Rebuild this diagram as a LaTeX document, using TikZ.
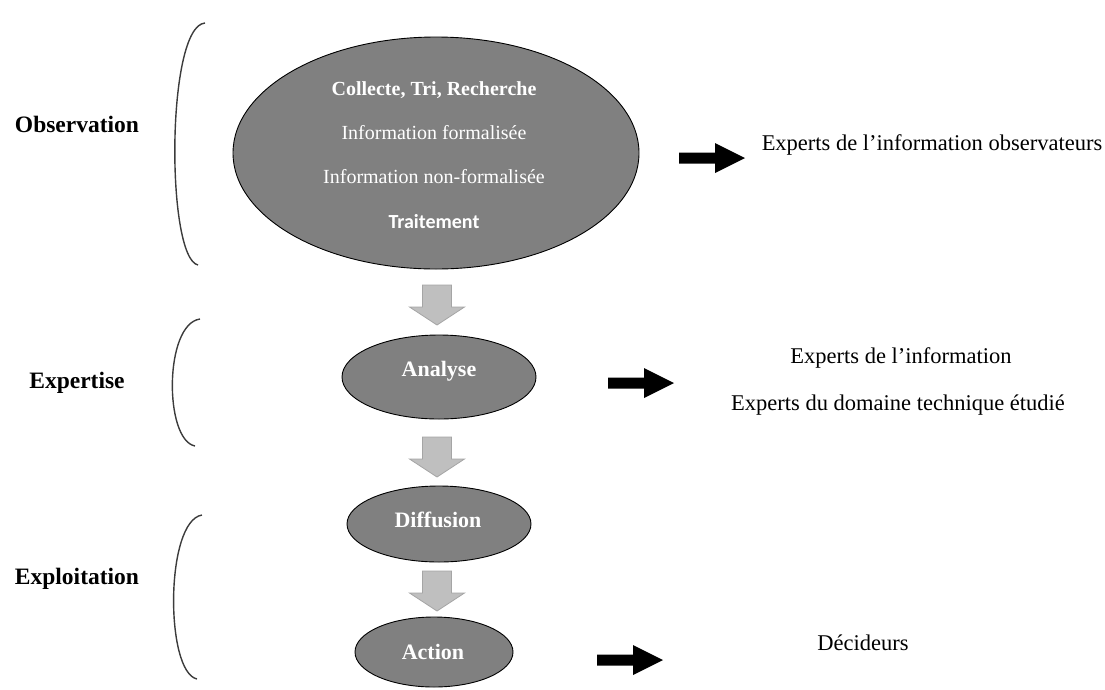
\documentclass[tikz,border=0pt]{standalone}
\usepackage{fontspec}
\setmainfont{Liberation Serif}
\newfontfamily\calibrisub{Carlito}
\usetikzlibrary{shapes.geometric}

\definecolor{stagefill}{RGB}{128,128,128}
\definecolor{flowfill}{RGB}{191,191,191}
\definecolor{flowedge}{RGB}{165,165,165}
\definecolor{bracecol}{RGB}{60,60,60}

\tikzset{
  stage/.style={ellipse, draw=black, line width=0.9pt, fill=stagefill, inner sep=0pt},
  stagetext/.style={text=white, font=\fontsize{22}{26}\selectfont\bfseries, inner sep=0pt},
  innertext/.style={text=white, font=\fontsize{20}{24}\selectfont, inner sep=0pt},
  phase/.style={font=\fontsize{23.5}{28}\selectfont\bfseries, inner sep=0pt},
  actor/.style={font=\fontsize{22.5}{27}\selectfont, inner sep=0pt},
  brace/.style={draw=bracecol, line width=1.4pt},
  pics/flowdown/.style={code={
    \filldraw[fill=flowfill, draw=flowedge, line width=0.8pt]
      (-14.5,0) -- (14.5,0) -- (14.5,22) -- (27.5,22) -- (0,40)
      -- (-27.5,22) -- (-14.5,22) -- cycle;}},
  pics/pointright/.style={code={
    \fill[black] (0,-5.5) -- (36,-5.5) -- (36,-15) -- (66,0)
      -- (36,15) -- (36,5.5) -- (0,5.5) -- cycle;}}
}

\begin{document}
\begin{tikzpicture}[x=1pt, y=-1pt]
\useasboundingbox (0,0) rectangle (1105,689);
\clip (0,0) rectangle (1105,689);

% stages of the process
\node[stage, minimum width=406pt, minimum height=232pt] (obs) at (436,153) {};
\node[innertext, font=\fontsize{20}{24}\selectfont\bfseries] (collecte) at (434,90) {Collecte, Tri, Recherche};
\node[innertext] (formal) at (434,133) {Information formalisée};
\node[innertext] (nonformal) at (434,177) {Information non-formalisée};
\node[innertext, font=\calibrisub\fontsize{20}{24}\selectfont\bfseries] (traitement) at (434,222) {Traitement};

\node[stage, minimum width=194pt, minimum height=84pt] (analyse) at (439,377) {};
\node[stagetext] (analysetxt) at (439,371) {Analyse};

\node[stage, minimum width=184pt, minimum height=76pt] (diffusion) at (439,524) {};
\node[stagetext] (diffusiontxt) at (438,520) {Diffusion};

\node[stage, minimum width=158pt, minimum height=70pt] (action) at (434,652) {};
\node[stagetext] (actiontxt) at (433,652) {Action};

% grey flow arrows between stages
\pic at (437,285) {flowdown};
\pic at (437,437) {flowdown};
\pic at (437,571) {flowdown};

% phase labels and their brackets
\node[phase] (observation) at (77,124) {Observation};
\node[phase] (expertise) at (77,383) {Expertise};
\node[phase] (exploitation) at (77,579) {Exploitation};

\draw[brace] (205,23) .. controls (166,26) and (166,258) .. (198,265);
\draw[brace] (200,319) .. controls (164,324) and (164,440) .. (195,446);
\draw[brace] (202,515) .. controls (165,521) and (165,672) .. (197,679);

% actors involved at each phase
\pic at (679,158) {pointright};
\node[actor] (observers) at (932,145) {Experts de l’information observateurs};

\pic at (608,383) {pointright};
\node[actor] (infoexperts) at (901,358) {Experts de l’information};
\node[actor] (domainexperts) at (898,405) {Experts du domaine technique étudié};

\pic at (597,660) {pointright};
\node[actor] (decideurs) at (863,643) {Décideurs};
\end{tikzpicture}
\end{document}
